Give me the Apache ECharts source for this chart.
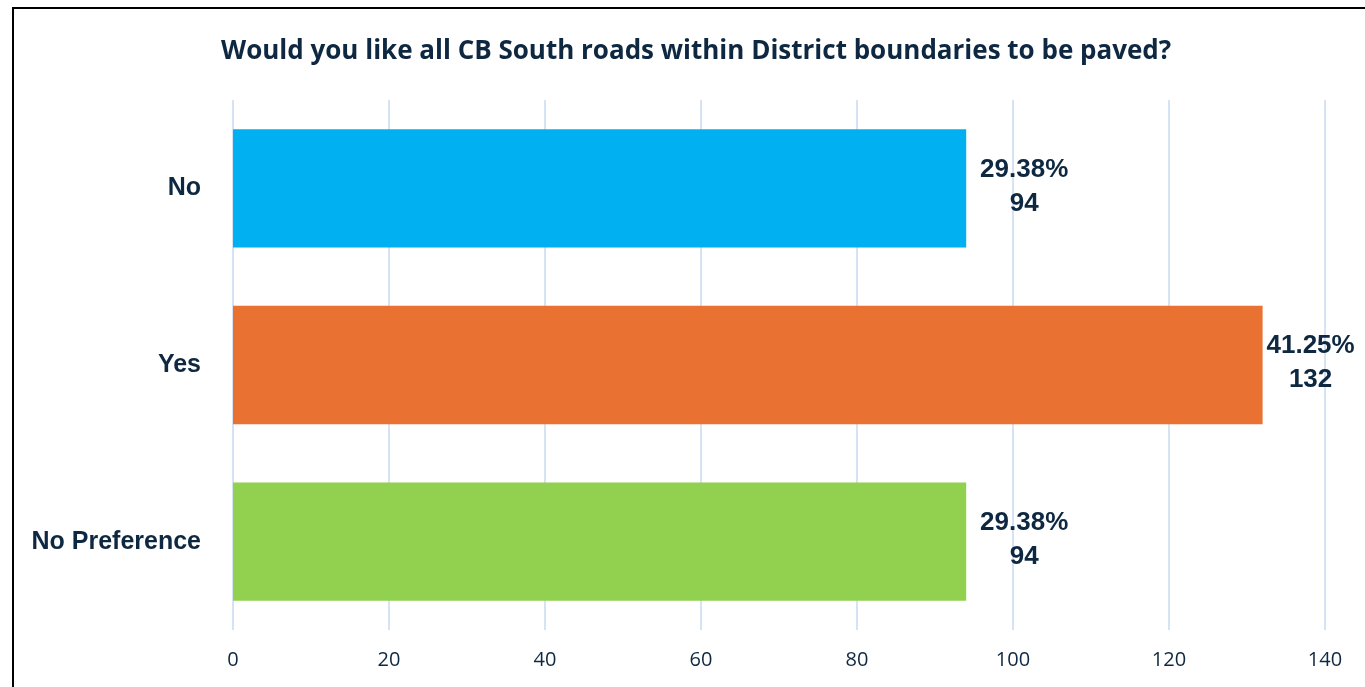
<!DOCTYPE html>
<html>
<head>
<meta charset="utf-8">
<script src="https://cdn.jsdelivr.net/npm/echarts@6/dist/echarts.min.js"></script>
<style>
  html, body { margin: 0; padding: 0; background: #fff; }
  #chart { position: absolute; left: 0; top: 0; width: 1365px; height: 687px; }
  #frame {
    position: absolute; left: 12px; top: 7px; width: 1400px; height: 700px;
    border-left: 2px solid #000; border-top: 2px solid #000;
    pointer-events: none;
  }
</style>
</head>
<body>
<div id="chart"></div>
<div id="frame"></div>
<script>
const title = 'Would you like all CB South roads within District boundaries to be paved?'
const categories = ['No Preference', 'Yes', 'No']
const counts = [94, 132, 94]
const percents = ['29.38%', '41.25%', '29.38%']
const barColors = ['#92D050', '#E97132', '#00B0F0']
const labelDistances = [58, 48, 58]

const navy = '#0E2841'

const chart = echarts.init(document.getElementById('chart'))

const option = {
  animation: false,
  title: {
    text: title,
    left: 216,
    top: 34,
    textStyle: {
      fontFamily: 'Open Sans',
      fontWeight: 'bold',
      fontSize: 26,
      color: navy,
    },
  },
  grid: {
    left: 233,
    right: 40,
    top: 100,
    height: 530,
  },
  xAxis: {
    type: 'value',
    min: 0,
    max: 140,
    interval: 20,
    axisLine: { show: false },
    axisTick: { show: false },
    axisLabel: {
      margin: 20,
      fontFamily: 'Open Sans',
      fontSize: 20,
      color: navy,
    },
    splitLine: {
      lineStyle: { color: '#C9DAF0', width: 1.5 },
    },
  },
  yAxis: {
    type: 'category',
    data: categories,
    axisLine: { show: false },
    axisTick: { show: false },
    axisLabel: {
      margin: 32,
      fontFamily: 'Liberation Sans',
      fontWeight: 'bold',
      fontSize: 25,
      color: navy,
    },
  },
  series: [
    {
      type: 'bar',
      barCategoryGap: '33%',
      data: counts.map((v, i) => ({
        value: v,
        itemStyle: { color: barColors[i] },
        label: { distance: labelDistances[i] },
      })),
      label: {
        show: true,
        position: 'right',
        align: 'center',
        lineHeight: 34,
        offset: [0, -2],
        fontFamily: 'Liberation Sans',
        fontWeight: 'bold',
        fontSize: 26,
        color: navy,
        formatter: (p) => percents[p.dataIndex] + '\n' + p.value,
      },
    },
  ],
}

chart.setOption(option)
</script>
</body>
</html>
